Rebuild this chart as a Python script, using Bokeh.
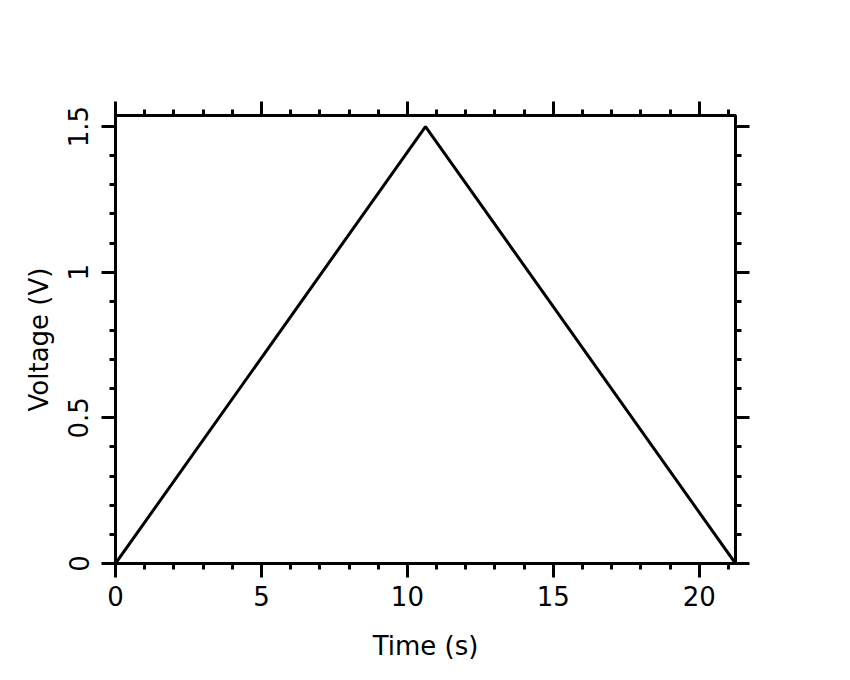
from bokeh.plotting import figure
from bokeh.models import LinearAxis, SingleIntervalTicker, CustomJSTickFormatter, Range1d
from bokeh.embed import file_html
from bokeh.resources import INLINE

# Data
time_s = [0.0, 10.62, 21.24]
voltage_v = [0.0, 1.5, 0.0]
x_label = "Time (s)"
y_label = "Voltage (V)"

FONT = "DejaVu Sans"

p = figure(frame_width=620, frame_height=448,
           min_border_left=115, min_border_top=115,
           min_border_right=107, min_border_bottom=109,
           x_range=Range1d(0, 21.24), y_range=Range1d(0, 1.538),
           output_backend="svg", toolbar_location=None,
           x_axis_location=None, y_axis_location=None)
p.grid.visible = False
p.background_fill_color = "white"
p.border_fill_color = "white"
p.outline_line_color = "black"
p.outline_line_width = 3

xt = SingleIntervalTicker(interval=5, num_minor_ticks=5)
yt = SingleIntervalTicker(interval=0.5, num_minor_ticks=5)
fmt = CustomJSTickFormatter(code="return tick.toString();")
blank = CustomJSTickFormatter(code="return '';")

bottom = LinearAxis(ticker=xt, formatter=fmt, axis_label=x_label)
left = LinearAxis(ticker=yt, formatter=fmt, axis_label=y_label)
top = LinearAxis(ticker=xt, formatter=blank)
right = LinearAxis(ticker=yt, formatter=blank)
p.add_layout(bottom, "below")
p.add_layout(left, "left")
p.add_layout(top, "above")
p.add_layout(right, "right")

for ax in [bottom, left, top, right]:
    ax.axis_line_width = 3
    ax.axis_line_color = "black"
    ax.major_tick_line_width = 3
    ax.minor_tick_line_width = 3
    ax.major_tick_in = 0
    ax.major_tick_out = 14
    ax.minor_tick_in = 0
    ax.minor_tick_out = 6
    ax.major_tick_line_color = "black"
    ax.minor_tick_line_color = "black"
    ax.major_label_text_font = FONT
    ax.major_label_text_font_size = "26px"
    ax.major_label_text_color = "black"
    ax.axis_label_text_font = FONT
    ax.axis_label_text_font_size = "26px"
    ax.axis_label_text_font_style = "normal"
    ax.axis_label_text_color = "black"

bottom.major_label_standoff = 8
bottom.axis_label_standoff = 22
left.major_label_orientation = "vertical"
left.major_label_standoff = 13
left.axis_label_standoff = 12

p.line(time_s, voltage_v, line_color="black", line_width=3)

open("out.html", "w").write(file_html(p, INLINE))
